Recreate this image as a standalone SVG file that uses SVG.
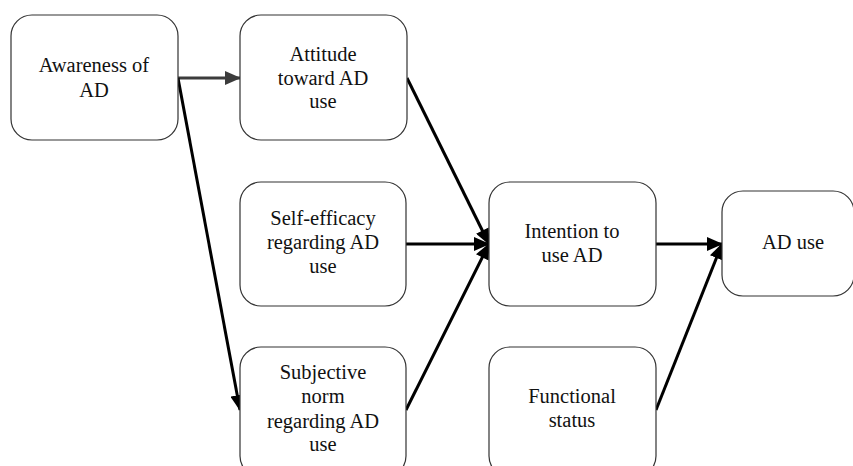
<svg xmlns="http://www.w3.org/2000/svg" width="853" height="466" viewBox="0 0 853 466">
  <style>
    .box { fill: #ffffff; stroke: #333333; stroke-width: 1.2; }
    .edge { fill: none; stroke: #000000; stroke-width: 3; marker-end: url(#arrow); }
    .edge.grey { stroke: #3c3c3c; marker-end: url(#arrowGrey); }
  </style>
  <defs>
    <marker id="arrow" markerUnits="userSpaceOnUse" markerWidth="16" markerHeight="14" viewBox="0 0 16 14" refX="15" refY="7" orient="auto">
      <path d="M0,0 L16,7 L0,14 Z" fill="#000000"/>
    </marker>
    <marker id="arrowGrey" markerUnits="userSpaceOnUse" markerWidth="16" markerHeight="14" viewBox="0 0 16 14" refX="15" refY="7" orient="auto">
      <path d="M0,0 L16,7 L0,14 Z" fill="#3c3c3c"/>
    </marker>
  </defs>
  <rect width="853" height="466" fill="#ffffff"/>

  <g id="connectors">
    <line class="edge grey" x1="178" y1="78" x2="240" y2="78"/>
    <line class="edge" x1="178" y1="78" x2="240" y2="410"/>
    <line class="edge" x1="407" y1="78" x2="489" y2="244"/>
    <line class="edge" x1="406" y1="244" x2="489" y2="244"/>
    <line class="edge" x1="406" y1="410" x2="489" y2="244"/>
    <line class="edge" x1="656" y1="244" x2="722" y2="244"/>
    <line class="edge" x1="656" y1="410" x2="722" y2="244"/>
  </g>

  <g font-family="Liberation Serif, DejaVu Serif, serif" font-size="20.5" fill="#111111" text-anchor="middle">
    <g id="awareness">
      <rect class="box" x="11" y="15" width="167" height="125" rx="21"/>
      <text x="94" y="72">Awareness of</text>
      <text x="94" y="97">AD</text>
    </g>

    <g id="attitude">
      <rect class="box" x="240" y="15" width="167" height="125" rx="21"/>
      <text x="323" y="61">Attitude</text>
      <text x="323" y="85">toward AD</text>
      <text x="323" y="108">use</text>
    </g>

    <g id="self-efficacy">
      <rect class="box" x="240" y="182" width="166" height="124" rx="21"/>
      <text x="323" y="225">Self-efficacy</text>
      <text x="323" y="249">regarding AD</text>
      <text x="323" y="273">use</text>
    </g>

    <g id="subjective-norm">
      <rect class="box" x="240" y="347" width="166" height="130" rx="21"/>
      <text x="323" y="379">Subjective</text>
      <text x="323" y="403">norm</text>
      <text x="323" y="428">regarding AD</text>
      <text x="323" y="451">use</text>
    </g>

    <g id="intention">
      <rect class="box" x="489" y="182" width="167" height="124" rx="21"/>
      <text x="572" y="238">Intention to</text>
      <text x="572" y="262">use AD</text>
    </g>

    <g id="functional-status">
      <rect class="box" x="489" y="347" width="167" height="130" rx="21"/>
      <text x="572" y="403">Functional</text>
      <text x="572" y="427">status</text>
    </g>

    <g id="ad-use">
      <rect class="box" x="722" y="191" width="132" height="105" rx="21"/>
      <text x="793" y="249">AD use</text>
    </g>
  </g>
</svg>
